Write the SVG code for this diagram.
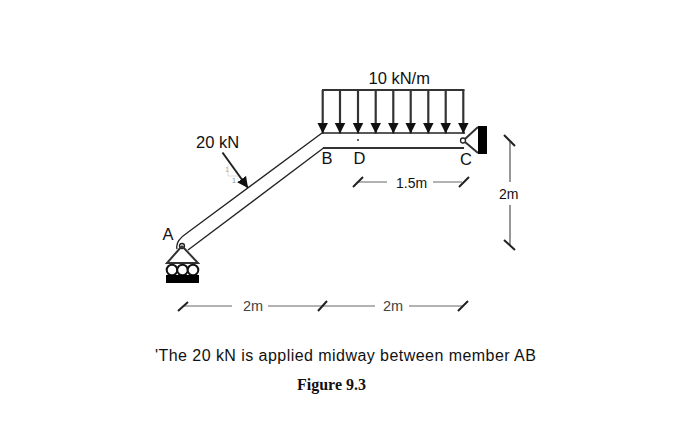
<svg xmlns="http://www.w3.org/2000/svg" width="691" height="426" viewBox="0 0 691 426">
<style>
text{font-family:"Liberation Sans",Arial,sans-serif;font-size:16.500px;fill:#111}
.b{stroke:#222;stroke-width:1.3;fill:none}
.t{stroke:#333;stroke-width:2;fill:none}
.d{stroke:#666;stroke-width:1;fill:none}
.k{stroke:#222;stroke-width:2;fill:none}
.l{stroke:#333;stroke-width:2.200;fill:none}
</style>
<defs>
<marker id="ah" markerUnits="userSpaceOnUse" markerWidth="11" markerHeight="12" refX="11" refY="5.500" orient="auto"><path d="M0,0L11,5.500L0,11Z" fill="#111"/></marker>
</defs>
<rect width="691" height="426" fill="#fff"/>
<g id="connectors">
<path class="l" d="M322,90H464.500"/>
<g class="l">
<path d="M322.700,90V133.500" marker-end="url(#ah)"/><path d="M340,90V133.500" marker-end="url(#ah)"/><path d="M358,90V133.500" marker-end="url(#ah)"/><path d="M375.700,90V133.500" marker-end="url(#ah)"/><path d="M393.300,90V133.500" marker-end="url(#ah)"/><path d="M410.700,90V133.500" marker-end="url(#ah)"/><path d="M428.300,90V133.500" marker-end="url(#ah)"/><path d="M445.700,90V133.500" marker-end="url(#ah)"/><path d="M463.300,90V133.500" marker-end="url(#ah)"/>
</g>
<path class="b" d="M322,133H465"/>
<path class="t" d="M323,148H464"/>
<path class="b" d="M322,133L187,233Q175,241 177,249"/>
<path class="b" d="M323.500,148L188,250"/>
<path class="k" d="M222.500,152.500L248,188" marker-end="url(#ah)"/>
<path d="M228,165V176H238" stroke="#ddd" stroke-width="1" fill="none"/>
<g id="dim-1-5m"><path class="d" d="M358,182H387M433,182H462"/><path class="k" d="M353,187L363,177M459,187L469,177"/></g>
<g id="dim-bottom"><path class="d" stroke="#444" d="M183,306H232M268,306H375M409,306H463"/><path class="k" d="M178,311L188,302M318,311L327,301M458,311L468,301"/></g>
<g id="dim-right"><path d="M510,142V182M510,205V246" stroke="#777" stroke-width="1.500" fill="none"/><path class="k" d="M504,135L515,146M504,240L515,250"/></g>
</g>
<g id="node-A"><text x="162.500" y="240">A</text></g>
<g id="support-A">
<circle cx="182" cy="246" r="2.500" fill="#fff" stroke="#222" stroke-width="1.300"/>
<path class="t" d="M182,246L167,263H198L182,246"/>
<circle cx="172" cy="270" r="5.300" fill="#fff" stroke="#111" stroke-width="2"/><circle cx="182.500" cy="270" r="5.300" fill="#fff" stroke="#111" stroke-width="2"/><circle cx="193" cy="270" r="5.300" fill="#fff" stroke="#111" stroke-width="2"/>
<rect x="166" y="275" width="33" height="8" fill="#000"/>
</g>
<g id="node-B"><text x="321.500" y="164">B</text></g>
<g id="node-D"><text x="353.500" y="163.500">D</text><circle cx="358" cy="140" r="1" fill="#333"/></g>
<g id="node-C"><text x="460" y="165">C</text>
<circle cx="463" cy="140.500" r="2.500" fill="#fff" stroke="#222" stroke-width="1.300"/>
<path class="t" d="M465,139L478,127M465,142L478,153"/>
<rect x="478" y="126" width="9" height="28" fill="#000"/></g>
<g id="labels">
<text x="368.500" y="84">10 kN/m</text>
<text x="196" y="148">20 kN</text>
<text x="225" y="172" style="font-size:7px;fill:#aaa">1</text>
<text x="232" y="183" style="font-size:7px;fill:#888">1</text>
<text x="396" y="188" style="font-size:14px">1.5m</text>
<text x="499" y="199" style="font-size:14px">2m</text>
<text x="243" y="311" style="font-size:14.500px;fill:#444">2m</text>
<text x="383" y="311" style="font-size:14.500px;fill:#444">2m</text>
<text x="155" y="361" style="font-size:16px;letter-spacing:.45px">'The 20 kN is applied midway between member AB</text>
<text x="297" y="390" style="font-family:'Liberation Serif',serif;font-weight:bold;font-size:16px">Figure 9.3</text>
</g>
</svg>
